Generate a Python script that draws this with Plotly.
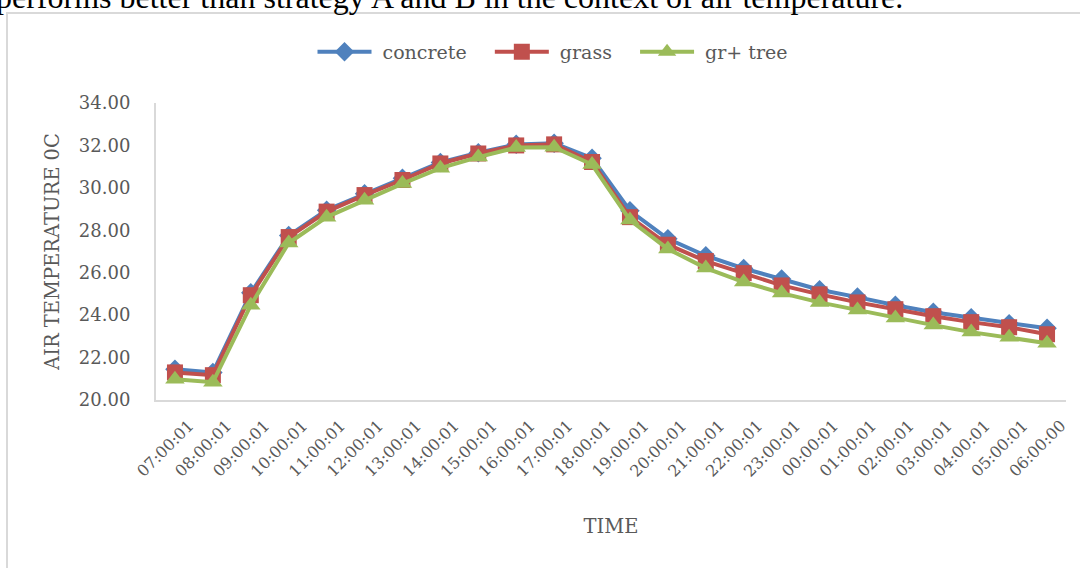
import plotly.graph_objects as go

times = ["07:00:01", "08:00:01", "09:00:01", "10:00:01", "11:00:01", "12:00:01",
         "13:00:01", "14:00:01", "15:00:01", "16:00:01", "17:00:01", "18:00:01",
         "19:00:01", "20:00:01", "21:00:01", "22:00:01", "23:00:01", "00:00:01",
         "01:00:01", "02:00:01", "03:00:01", "04:00:01", "05:00:01", "06:00:00"]

concrete = [21.45, 21.3, 25.05, 27.75, 28.95, 29.72, 30.45, 31.2, 31.66, 32.05, 32.1, 31.4,
            28.92, 27.6, 26.8, 26.2, 25.7, 25.2, 24.85, 24.47, 24.14, 23.88, 23.6, 23.38]
grass = [21.3, 21.17, 24.94, 27.68, 28.88, 29.66, 30.37, 31.15, 31.62, 32.0, 32.05, 31.22,
         28.62, 27.32, 26.55, 25.98, 25.4, 24.98, 24.6, 24.28, 23.95, 23.67, 23.43, 23.1]
gr_tree = [20.98, 20.84, 24.47, 27.4, 28.62, 29.42, 30.2, 30.93, 31.45, 31.9, 31.92, 31.1,
           28.48, 27.12, 26.22, 25.56, 25.04, 24.6, 24.24, 23.86, 23.53, 23.2, 22.96, 22.68]

series_names = ["concrete", "grass", "gr+ tree"]
series_colors = ["#4F81BD", "#C0504D", "#9BBB59"]
series_symbols = ["diamond", "square", "triangle-up"]
series_sizes = [15, 16, 17]

y_ticks = [20, 22, 24, 26, 28, 30, 32, 34]

FONT = "DejaVu Serif"
GREY = "#595959"
NB = "\u00a0"

fig = go.Figure()
n = len(series_names)
for i, (name, vals, col, sym, sz) in enumerate(zip(series_names, [concrete, grass, gr_tree],
                                                    series_colors, series_symbols, series_sizes)):
    label = NB + name + (NB * 3 if i < n - 1 else "")
    fig.add_trace(go.Scatter(
        x=times, y=vals, name=label, mode="lines+markers",
        line=dict(color=col, width=4),
        marker=dict(symbol=sym, size=sz, color=col, line=dict(width=0)),
    ))

L, R, T, B = 156, 14, 103, 168
W, H = 1080, 568
pw = W - L - R
ph = H - T - B

def px(x):
    return (x - L) / pw

def py(y):
    return 1 - (y - T) / ph

fig.update_layout(
    width=W, height=H,
    margin=dict(l=L, r=R, t=T, b=B, autoexpand=False),
    paper_bgcolor="white", plot_bgcolor="white",
    font=dict(family=FONT, color=GREY, size=18),
    showlegend=True,
    legend=dict(orientation="h", x=px(553), xanchor="center", y=py(52), yanchor="middle",
                font=dict(family=FONT, size=19, color=GREY), itemwidth=54,
                bgcolor="rgba(0,0,0,0)"),
    xaxis=dict(
        type="category", range=[-0.5, len(times) - 0.5], tickangle=-45,
        showgrid=False, zeroline=False,
        showline=True, linecolor="#d9d9d9", linewidth=2, ticks="",
        ticklabelshift=14, ticklabelstandoff=8,
        tickfont=dict(family=FONT, size=16, color=GREY),
        title=dict(text="TIME", font=dict(family=FONT, size=19.5, color=GREY), standoff=40),
    ),
    yaxis=dict(
        range=[20, 34], tickvals=y_ticks, tickformat=".2f", showgrid=False, zeroline=False,
        showline=True, linecolor="#d9d9d9", linewidth=2, ticks="", ticklabelstandoff=20,
        tickfont=dict(family=FONT, size=18, color=GREY),
        title=dict(text="AIR TEMPERATURE 0C", font=dict(family=FONT, size=19.5, color=GREY),
                   standoff=14),
    ),
    shapes=[dict(type="rect", xref="paper", yref="paper",
                 x0=px(7), x1=px(1100), y0=py(13), y1=py(620),
                 line=dict(color="#d9d9d9", width=2), fillcolor="rgba(0,0,0,0)",
                 layer="above")],
    annotations=[dict(text="performs better than strategy A and B in the context of air temperature.",
                      xref="paper", yref="paper", x=px(-6), y=py(17),
                      xanchor="left", yanchor="bottom", showarrow=False,
                      font=dict(family="Liberation Serif", size=32, color="black"))],
)

fig.write_html("out.html", config={"displayModeBar": False},
               post_script="document.body.style.margin='0';document.body.style.overflow='hidden';")
